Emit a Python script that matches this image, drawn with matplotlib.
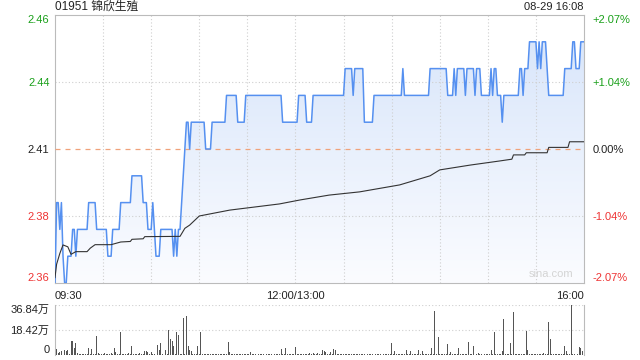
import matplotlib
matplotlib.use("Agg")
import matplotlib.pyplot as plt
import numpy as np
from matplotlib.colors import LinearSegmentedColormap

plt.rcParams['font.family'] = ['Liberation Sans', 'Noto Sans CJK SC', 'DejaVu Sans']

# price per minute, run-length: level and number of minutes it is held
price_levels = [2.36, 2.39, 2.38, 2.39, 2.37, 2.36, 2.37, 2.38, 2.37, 2.38,
                2.39, 2.38, 2.37, 2.38, 2.39, 2.40, 2.39, 2.38, 2.39, 2.38,
                2.37, 2.38, 2.37, 2.38, 2.37, 2.38, 2.39, 2.40, 2.41, 2.42,
                2.41, 2.42, 2.41, 2.42, 2.43, 2.42, 2.43, 2.42, 2.43, 2.42,
                2.43, 2.44, 2.43, 2.44, 2.42, 2.43, 2.44, 2.43, 2.44, 2.43,
                2.44, 2.43, 2.44, 2.43, 2.44, 2.43, 2.44, 2.43, 2.44, 2.43,
                2.44, 2.43, 2.42, 2.43, 2.44, 2.43, 2.44, 2.45, 2.44, 2.45,
                2.44, 2.45, 2.44, 2.43, 2.44, 2.45, 2.44, 2.45]
price_runs = [1, 2, 1, 1, 1, 2, 3, 2, 1, 7,
              5, 7, 3, 5, 7, 7, 3, 3, 1, 1,
              3, 8, 1, 1, 1, 2, 1, 1, 1, 2,
              1, 9, 4, 9, 7, 5, 23, 10, 5, 4,
              20, 5, 1, 6, 6, 18, 1, 16, 11, 4,
              1, 1, 5, 1, 5, 1, 3, 6, 1, 1,
              2, 3, 1, 10, 2, 1, 3, 5, 1, 1,
              1, 3, 1, 10, 5, 2, 3, 3]

# average price line (minute, value) read at its steps
avg_minutes = [0, 1, 3, 5, 8, 10, 13, 20, 22, 25, 35, 41, 47, 48, 55, 56, 78, 81, 84,
               90, 109, 140, 153, 171, 190, 215, 234, 240, 259, 277, 285, 286, 293,
               294, 307, 308, 320, 321, 330]
avg_values = [2.362, 2.367, 2.371, 2.3742, 2.3735, 2.3707, 2.3717, 2.3717, 2.373, 2.3743,
              2.3743, 2.3753, 2.3755, 2.3763, 2.3765, 2.3773, 2.3774, 2.3804, 2.3816,
              2.385, 2.3872, 2.3895, 2.391, 2.3928, 2.394, 2.3966, 2.400, 2.4022, 2.404,
              2.4055, 2.4062, 2.4078, 2.4078, 2.4086, 2.4086, 2.4106, 2.4106, 2.4127, 2.4127]

# volume per minute, in 万 shares
volume = [10.3, 4.4, 1.5, 2.0, 3.2, 8.6, 3.7, 3.0, 3.5, 1.0,
          10.3, 10.3, 5.0, 8.6, 1.5, 1.0, 0.8, 0.8, 0.6, 0.8,
          0.8, 4.9, 1.0, 4.4, 1.0, 0.8, 14.0, 1.2, 0.8, 1.0,
          0.8, 1.2, 0.6, 1.0, 0.8, 1.2, 0.8, 4.9, 2.5, 0.8,
          0.6, 16.7, 0.8, 1.0, 0.6, 0.8, 1.2, 0.8, 6.6, 0.8,
          1.0, 0.6, 0.8, 1.2, 0.8, 1.0, 3.0, 3.0, 2.2, 0.8,
          2.2, 0.8, 1.0, 8.6, 7.0, 3.7, 8.6, 1.0, 10.3, 3.7,
          1.0, 18.4, 11.8, 10.3, 6.6, 1.0, 17.2, 14.7, 1.0, 1.0,
          27.5, 1.0, 29.0, 6.9, 3.7, 2.9, 1.0, 0.8, 1.0, 6.9,
          1.0, 16.7, 0.8, 0.6, 0.8, 0.6, 0.8, 0.6, 0.8, 0.6,
          0.8, 0.6, 0.8, 0.6, 0.8, 0.6, 0.8, 0.6, 9.8, 2.5,
          0.8, 0.6, 0.8, 0.6, 0.8, 0.6, 0.8, 0.6, 0.8, 0.6,
          0.8, 0.6, 2.0, 0.6, 0.8, 0.6, 0.8, 0.6, 0.8, 0.6,
          0.8, 0.6, 0.8, 0.6, 0.8, 0.6, 0.8, 0.6, 0.8, 0.6,
          0.8, 4.4, 0.6, 0.8, 5.4, 0.6, 0.8, 0.6, 0.8, 0.6,
          6.1, 0.6, 0.8, 0.6, 0.8, 0.6, 0.8, 0.6, 0.8, 1.5,
          0.8, 1.5, 0.6, 0.8, 1.2, 0.6, 1.0, 3.8, 2.9, 1.9,
          0.8, 0.6, 1.9, 0.8, 4.4, 4.0, 0.8, 0.6, 0.8, 0.6,
          0.8, 0.6, 0.8, 0.6, 0.8, 0.6, 0.8, 0.6, 0.8, 0.6,
          0.8, 0.6, 0.8, 0.6, 20.9, 0.6, 0.8, 0.6, 0.8, 0.6,
          0.8, 0.6, 0.8, 0.6, 0.8, 0.6, 0.8, 0.6, 0.8, 0.6,
          9.1, 0.8, 3.2, 0.6, 0.8, 0.6, 0.8, 0.6, 0.8, 3.7,
          0.8, 0.6, 3.2, 0.6, 0.8, 0.6, 0.8, 3.7, 0.8, 3.2,
          0.8, 0.6, 0.8, 0.6, 0.8, 5.4, 0.8, 32.4, 0.8, 13.5,
          0.8, 0.6, 0.8, 0.6, 0.8, 8.1, 0.8, 2.5, 0.8, 0.6,
          0.8, 0.6, 5.4, 0.6, 0.8, 0.6, 0.8, 0.6, 9.8, 0.6,
          0.8, 6.9, 0.8, 0.6, 1.7, 0.6, 0.8, 11.0, 0.8, 0.6,
          0.8, 0.6, 3.7, 0.6, 17.2, 0.6, 0.8, 0.6, 0.8, 3.0,
          26.5, 0.6, 0.8, 0.6, 9.1, 0.6, 31.7, 0.6, 0.8, 0.6,
          0.8, 0.6, 0.8, 0.6, 17.9, 3.7, 0.8, 0.6, 0.8, 0.6,
          0.8, 0.6, 0.8, 0.6, 0.8, 1.7, 0.8, 0.6, 24.3, 11.8,
          0.8, 0.6, 0.8, 0.6, 0.8, 0.6, 0.8, 0.6, 6.9, 3.2,
          0.8, 0.6, 36.8, 0.6, 0.8, 1.9, 0.8, 6.1, 4.9, 3.2,
          30.7]

prev_close = 2.41
y_ticks = [2.36, 2.385, 2.41, 2.435, 2.46]
y_labels = ["2.36", "2.38", "2.41", "2.44", "2.46"]
pct_labels = ["-2.07%", "-1.04%", "0.00%", "+1.04%", "+2.07%"]
vol_ticks = [0, 18.42, 36.84]
vol_labels = ["0", "18.42万", "36.84万"]

GREEN = "#1aa01a"
RED = "#ee3333"
GRID = "#cfcfcf"
label_colors = [RED, RED, "#222222", GREEN, GREEN]

prices = np.repeat(price_levels, price_runs)
minutes = np.arange(len(prices))

fig = plt.figure(figsize=(6.4, 3.6), dpi=100)
ax = fig.add_axes([55 / 640, 77 / 360, 529 / 640, 268 / 360])
axv = fig.add_axes([55 / 640, 5 / 360, 529 / 640, 50 / 360])

# gradient fill under the price line
poly = ax.fill_between(minutes, prices, y_ticks[0], color="none", lw=0)
grad = np.linspace(0, 1, 256).reshape(-1, 1)
cmap = LinearSegmentedColormap.from_list("fade", ["#fbfcff", "#d6e4fa"])
im = ax.imshow(grad, extent=[0, 330, y_ticks[0], y_ticks[-1]], origin="lower",
               aspect="auto", cmap=cmap, zorder=1)
im.set_clip_path(poly.get_paths()[0], transform=ax.transData)

ax.plot(minutes, prices, color="#5590f0", lw=1.1, zorder=4)
ax.plot(avg_minutes, avg_values, color="#333333", lw=0.8, zorder=4)
ax.axhline(prev_close, color="#f0a27a", lw=0.9, ls=(0, (4, 4)), zorder=3)
for yv in [y_ticks[1], y_ticks[3]]:
    ax.axhline(yv, color=GRID, lw=0.8, ls=(0, (1, 2)), zorder=2)
for xv in range(30, 330, 30):
    ax.axvline(xv, color=GRID, lw=0.8, ls=(0, (1, 2)), zorder=2)

ax.set_xlim(0, 330)
ax.set_ylim(y_ticks[0], y_ticks[-1])
ax.set_xticks([])
ax.set_yticks(y_ticks)
ax.set_yticklabels(y_labels, fontsize=8)
ax.tick_params(axis="y", length=0, pad=4)
for s in ax.spines.values():
    s.set_color("#bbbbbb")
    s.set_linewidth(0.8)

ax2 = ax.twinx()
ax2.set_ylim(y_ticks[0], y_ticks[-1])
ax2.set_yticks(y_ticks)
ax2.set_yticklabels(pct_labels, fontsize=8)
ax2.tick_params(axis="y", length=0, pad=6)
for s in ax2.spines.values():
    s.set_visible(False)

# first and last labels sit inside the frame, the rest centred on their line
for a in (ax, ax2):
    labs = a.get_yticklabels()
    for lab, col in zip(labs, label_colors):
        lab.set_color(col)
    labs[0].set_va("bottom")
    labs[-1].set_va("top")

ax.text(0, -0.028, "09:30", transform=ax.transAxes, ha="left", va="top", fontsize=8, color="#222222")
ax.text(150 / 330, -0.028, "12:00/13:00", transform=ax.transAxes, ha="center", va="top", fontsize=8, color="#222222")
ax.text(1, -0.028, "16:00", transform=ax.transAxes, ha="right", va="top", fontsize=8, color="#222222")
ax.text(0.98, 0.015, "sina.com", transform=ax.transAxes, ha="right", va="bottom", fontsize=8, color="#d4d4d4")

fig.text(55 / 640, 1 - 7 / 360, "01951 锦欣生殖", ha="left", va="center", fontsize=8.5, color="#222222")
fig.text(584 / 640, 1 - 7 / 360, "08-29 16:08", ha="right", va="center", fontsize=8, color="#222222")

# volume panel
axv.bar(minutes, volume, width=0.6, color="#555555", zorder=3)
axv.set_xlim(0, 330)
axv.set_ylim(0, 36.84)
axv.set_xticks([])
axv.set_yticks(vol_ticks)
axv.set_yticklabels(vol_labels, fontsize=8, color="#222222")
axv.tick_params(axis="y", length=0, pad=4)
vlabs = axv.get_yticklabels()
vlabs[0].set_va("bottom")
vlabs[-1].set_va("top")
for yv in vol_ticks[1:]:
    axv.axhline(yv, color=GRID, lw=0.8, ls=(0, (1, 2)), zorder=1)
for name, s in axv.spines.items():
    s.set_color("#bbbbbb")
    s.set_linewidth(0.8)
    if name in ("top", "bottom"):
        s.set_visible(False)

fig.savefig("out.png", dpi=100)
